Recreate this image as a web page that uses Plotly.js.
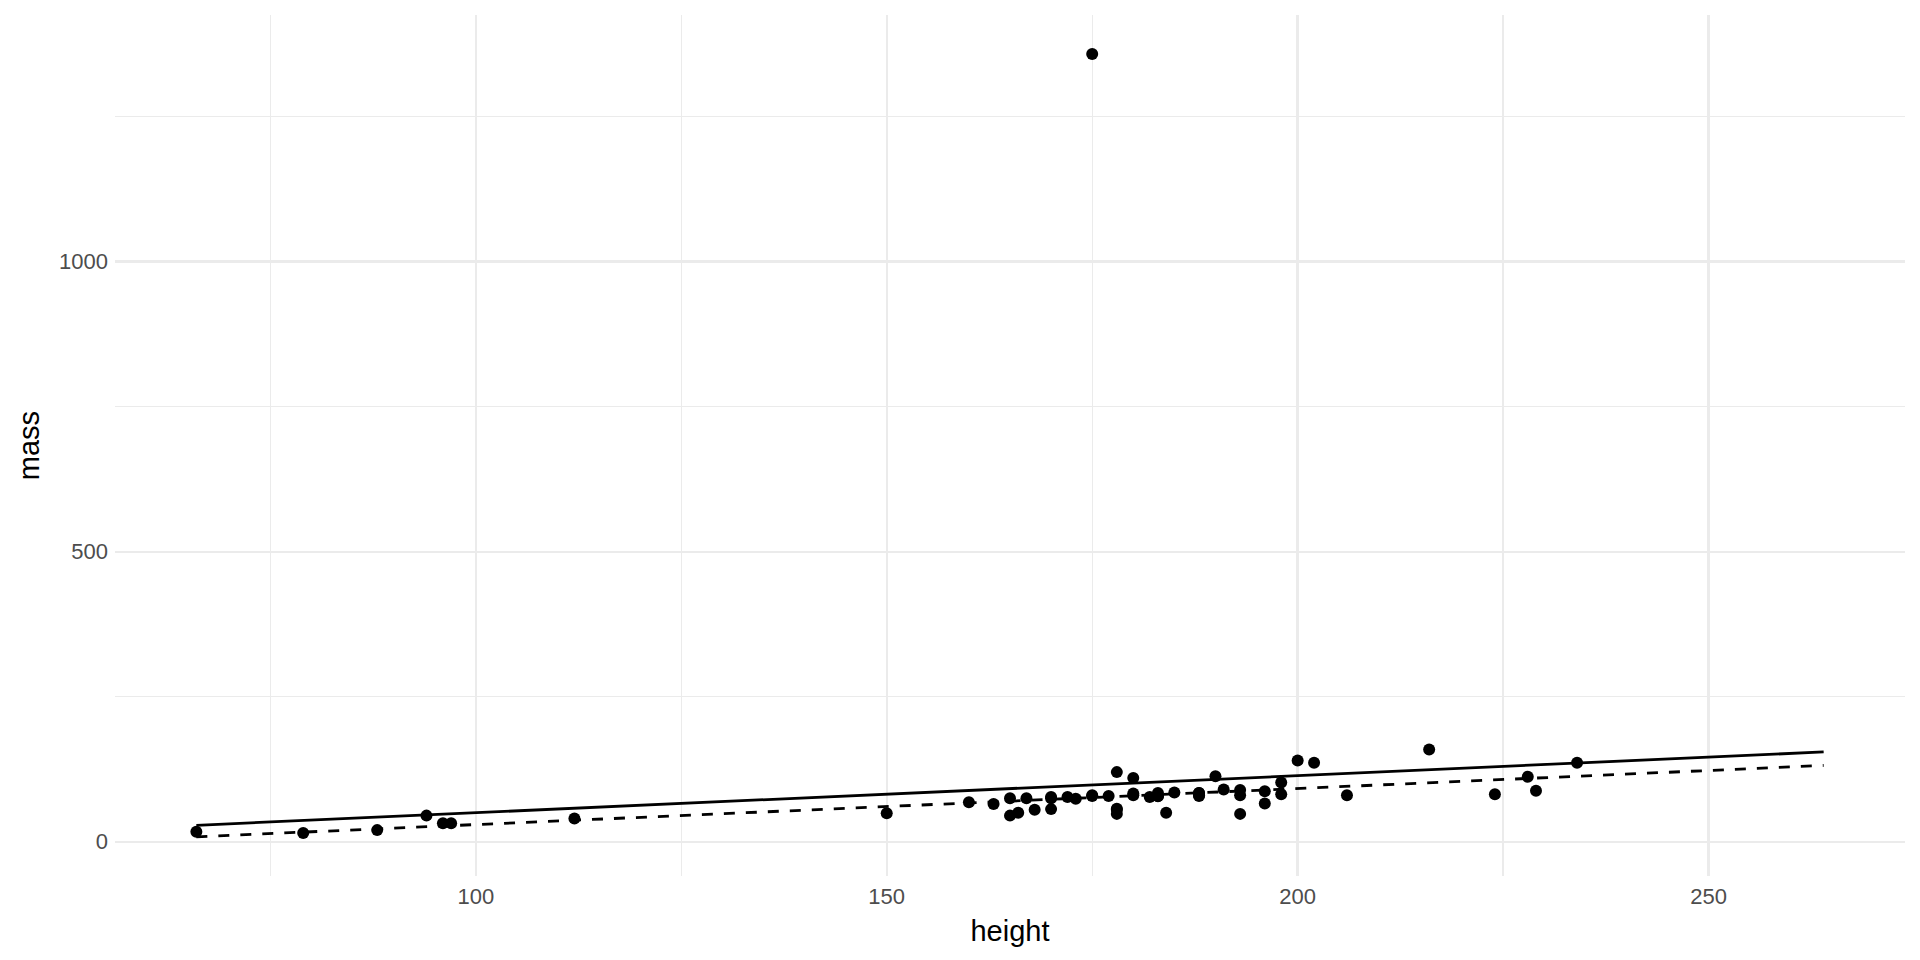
<!DOCTYPE html>
<html>
<head>
<meta charset="utf-8">
<script src="https://cdn.plot.ly/plotly-3.0.1.min.js"></script>
<style>
  html, body { margin: 0; padding: 0; background: #ffffff; }
  #chart { width: 1920px; height: 960px; }
</style>
</head>
<body>
<div id="chart"></div>
<script>
// Star Wars characters with both height and mass recorded
const names = [
  "Luke Skywalker","C-3PO","R2-D2","Darth Vader","Leia Organa","Owen Lars","Beru Whitesun Lars",
  "R5-D4","Biggs Darklighter","Obi-Wan Kenobi","Anakin Skywalker","Chewbacca","Han Solo","Greedo",
  "Jabba Desilijic Tiure","Wedge Antilles","Jek Tono Porkins","Yoda","Palpatine","Boba Fett","IG-88",
  "Bossk","Lando Calrissian","Lobot","Ackbar","Wicket Systri Warrick","Nien Nunb","Qui-Gon Jinn",
  "Nute Gunray","Padmé Amidala","Jar Jar Binks","Roos Tarpals","Sebulba","Darth Maul","Ayla Secura",
  "Ratts Tyerel","Dud Bolt","Ben Quadinaros","Mace Windu","Ki-Adi-Mundi","Kit Fisto","Adi Gallia",
  "Plo Koon","Gregar Typho","Poggle the Lesser","Luminara Unduli","Barriss Offee","Dooku","Jango Fett",
  "Zam Wesell","Dexter Jettster","Lama Su","Wat Tambor","Shaak Ti","Grievous","Tarfful",
  "Raymus Antilles","Sly Moore","Tion Medon"
];
const height = [
  172,167,96,202,150,178,165,
  97,183,182,188,228,180,173,
  175,170,180,66,170,183,200,
  190,177,175,180,88,160,193,
  191,165,196,224,112,175,178,
  79,94,163,188,198,196,184,
  188,185,183,170,166,193,183,
  168,198,229,193,178,216,234,
  188,178,206
];
const mass = [
  77,75,32,136,49,120,75,
  32,84,77,84,112,80,74,
  1358,77,110,17,75,78.2,140,
  113,79,79,83,20,68,89,
  90,45,66,82,40,80,55,
  15,45,65,84,82,87,50,
  80,85,80,56.2,50,80,79,
  55,102,88,48,57,159,136,
  79,48,80
];
// extent of the height scale (the fitted lines span it)
const heightLimits = [66, 264];
const outlierName = "Jabba Desilijic Tiure";

function linearFit(xs, ys) {
  const n = xs.length;
  const mx = xs.reduce((a, b) => a + b, 0) / n;
  const my = ys.reduce((a, b) => a + b, 0) / n;
  let sxy = 0, sxx = 0;
  for (let i = 0; i < n; i++) { sxy += (xs[i] - mx) * (ys[i] - my); sxx += (xs[i] - mx) ** 2; }
  const slope = sxy / sxx;
  return { slope: slope, intercept: my - slope * mx };
}

const fitAll = linearFit(height, mass);
const keep = names.map((n, i) => n !== outlierName ? i : -1).filter(i => i >= 0);
const fitNo = linearFit(keep.map(i => height[i]), keep.map(i => mass[i]));

const lineAll = heightLimits.map(h => fitAll.intercept + fitAll.slope * h);
const lineNo = heightLimits.map(h => fitNo.intercept + fitNo.slope * h);

const traces = [
  {
    x: height, y: mass, text: names, type: 'scatter', mode: 'markers',
    marker: { color: '#000000', size: 12, line: { width: 0 } },
    hovertemplate: '%{text}<br>height: %{x}<br>mass: %{y}<extra></extra>'
  },
  {
    x: heightLimits, y: lineAll, type: 'scatter', mode: 'lines',
    line: { color: '#000000', width: 2.8 }, hoverinfo: 'skip'
  },
  {
    x: heightLimits, y: lineNo, type: 'scatter', mode: 'lines',
    line: { color: '#000000', width: 2.8, dash: '11px,11px' }, hoverinfo: 'skip'
  }
];

const gridMajor = '#EBEBEB';
const tickFont = { family: 'Liberation Sans, Arial, sans-serif', size: 22, color: '#4D4D4D' };
const titleFont = { family: 'Liberation Sans, Arial, sans-serif', size: 29, color: '#000000' };

const layout = {
  width: 1920, height: 960,
  paper_bgcolor: '#ffffff', plot_bgcolor: '#ffffff',
  showlegend: false,
  margin: { l: 115, r: 15, t: 15, b: 84, pad: 0 },
  xaxis: {
    range: [56.1, 273.9],
    tickvals: [100, 150, 200, 250],
    ticktext: ['100', '150', '200', '250'],
    showgrid: true, gridcolor: gridMajor, gridwidth: 2.4,
    minor: { tickvals: [75, 125, 175, 225], showgrid: true, gridcolor: gridMajor, gridwidth: 1.3, ticks: '' },
    zeroline: false, showline: false, ticks: '',
    tickfont: tickFont, ticklabelstandoff: 5,
    title: { text: 'height', font: titleFont, standoff: 12 }
  },
  yaxis: {
    range: [-59.1, 1425.3],
    tickvals: [0, 500, 1000],
    ticktext: ['0', '500', '1000'],
    showgrid: true, gridcolor: gridMajor, gridwidth: 2.4,
    minor: { tickvals: [250, 750, 1250], showgrid: true, gridcolor: gridMajor, gridwidth: 1.3, ticks: '' },
    zeroline: false, showline: false, ticks: '',
    tickfont: tickFont, ticklabelstandoff: 6,
    title: { text: 'mass', font: titleFont, standoff: 10 }
  }
};

Plotly.newPlot('chart', traces, layout, { displayModeBar: false, staticPlot: true });
</script>
</body>
</html>
